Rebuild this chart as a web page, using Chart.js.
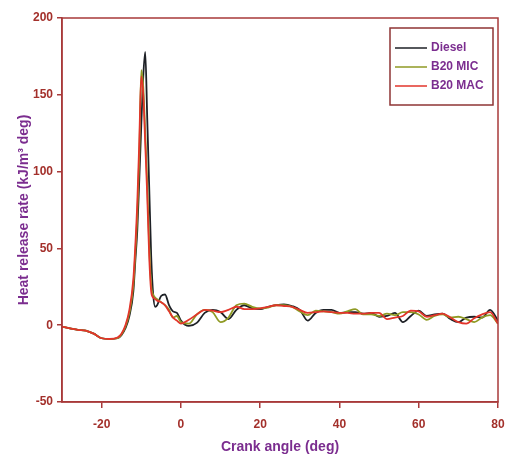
<!DOCTYPE html>
<html>
<head>
<meta charset="utf-8">
<script src="https://cdn.jsdelivr.net/npm/chart.js@4.4.0/dist/chart.umd.min.js"></script>
<style>
  html, body { margin: 0; padding: 0; background: #fff; }
  #wrap { width: 505px; height: 459px; }
</style>
</head>
<body>
<div id="wrap"><canvas id="hrr"></canvas></div>
<script>
const crankAngle = [
  -30, -28, -26, -24, -22, -20, -18, -16, -15, -14,
  -13, -12, -11.5, -11, -10.5, -10, -9.5, -9, -8.5, -8, -7.5, -7, -6.5, -6,
  -5, -4, -3, -2, -1,
  0, 2, 4, 6, 8, 10, 12, 14, 16, 18, 20, 22, 24, 26, 28, 30, 32, 34, 36, 38, 40,
  42, 44, 46, 48, 50, 52, 54, 56, 58, 60, 62, 64, 66, 68, 70, 72, 74, 76, 78, 80
];
const diesel = [
  -1, -2, -3, -3.5, -5.5, -8.5, -9, -8.5, -6.5, -2,
  6, 22, 42, 62, 95, 130, 162, 178, 135, 90, 45, 20, 12, 13,
  19, 20, 13, 9, 8,
  3, -0.5, 1.5, 8, 10, 8.5, 4, 10, 13, 11, 10.5, 12, 13, 13.5, 12.5, 10, 3, 8, 10, 10, 8,
  8.5, 8.5, 7.5, 8, 5.5, 6, 8, 2, 6, 9.5, 6, 7, 7.5, 4, 2, 5, 5.5, 5, 10, 3
];
const b20Mic = [
  -1, -2, -3, -3.5, -5.5, -8.5, -9, -8.5, -6, -1,
  8, 26, 47, 72, 110, 166, 155, 125, 92, 52, 26, 20, 18, 17,
  15, 13, 10, 5, 6,
  2, 1, 7, 10, 8.5, 2, 5, 13, 14, 12, 11, 11.5, 13, 13, 12, 9, 6.5, 9.5, 9, 8.5, 7.5,
  9, 10.5, 7, 7, 6, 7.5, 6.5, 8.5, 8.5, 7, 3.5, 6, 7, 5, 5.5, 4, 2, 5, 6.5, 1
];
const b20Mac = [
  -1, -2, -3, -3.5, -5.5, -8.5, -9, -8, -5.5, 0,
  10, 30, 52, 80, 120, 162, 150, 118, 85, 45, 22, 18, 17, 16,
  15, 13, 9, 5, 3,
  1, 3.5, 7, 10, 9.5, 8.5, 10, 12, 10.5, 10.5, 11, 12, 13, 12.5, 12, 10, 8, 8.5, 9, 8.5, 8,
  8, 7.5, 7.5, 8, 8, 4, 5, 6, 9.5, 9, 5.5, 6.5, 7.5, 5, 2, 1, 4.5, 7, 8.5, 1
];
const seriesNames = ['Diesel', 'B20 MIC', 'B20 MAC'];
const xTicks = [-20, 0, 20, 40, 60, 80];

const axisColor = '#a83a3a';
const tickColor = '#a3302b';
const titleColor = '#7b2d8f';
const fontFamily = 'Arial, "Liberation Sans", sans-serif';

// frame around the plot + boxed legend in the top right corner
const framePlugin = {
  id: 'frameAndLegend',
  afterDraw(chart) {
    const { ctx, chartArea: a } = chart;
    ctx.save();
    ctx.strokeStyle = axisColor;
    ctx.lineWidth = 1.5;
    ctx.strokeRect(a.left, a.top, a.right - a.left, a.bottom - a.top);

    const bx = a.right - 108, by = a.top + 10, bw = 103, bh = 77;
    ctx.strokeStyle = '#8e3535';
    ctx.lineWidth = 1.5;
    ctx.strokeRect(bx, by, bw, bh);

    ctx.font = 'bold 12px ' + fontFamily;
    ctx.textBaseline = 'middle';
    chart.data.datasets.forEach((ds, i) => {
      const y = by + 20 + i * 19;
      ctx.strokeStyle = ds.borderColor;
      ctx.lineWidth = 1.5;
      ctx.beginPath();
      ctx.moveTo(bx + 5, y);
      ctx.lineTo(bx + 37, y);
      ctx.stroke();
      ctx.fillStyle = titleColor;
      ctx.fillText(ds.label, bx + 41, y);
    });
    ctx.restore();
  }
};

const colors = ['#1e2126', '#8f9a24', '#e2352b'];
const values = [diesel, b20Mic, b20Mac];

new Chart(document.getElementById('hrr'), {
  type: 'line',
  data: {
    labels: crankAngle,
    datasets: values.map((v, i) => ({
      label: seriesNames[i],
      data: v.map((y, k) => ({ x: crankAngle[k], y })),
      borderColor: colors[i],
      borderWidth: 1.8,
      pointRadius: 0,
      fill: false,
      order: 2 - i, // red drawn on top, like the original
      cubicInterpolationMode: 'monotone'
    }))
  },
  options: {
    responsive: true,
    maintainAspectRatio: false,
    animation: false,
    layout: { padding: { left: 0, top: 18, right: 7, bottom: 0 } },
    plugins: {
      legend: { display: false },
      tooltip: { enabled: false }
    },
    scales: {
      x: {
        type: 'linear',
        min: -30,
        max: 80,
        afterBuildTicks: (scale) => { scale.ticks = xTicks.map(v => ({ value: v })); },
        afterFit: (scale) => {
          scale.height = 57;
          scale.paddingLeft = 0;
          scale.paddingRight = 0;
        },
        grid: { drawOnChartArea: false, drawTicks: true, tickLength: 6, color: axisColor, lineWidth: 1.5 },
        border: { color: axisColor, width: 1.5 },
        ticks: {
          color: tickColor,
          padding: 9,
          maxRotation: 0,
          font: { size: 12, weight: 'bold', family: fontFamily }
        },
        title: {
          display: true,
          text: 'Crank angle (deg)',
          color: titleColor,
          padding: { top: 0, bottom: 3 },
          font: { size: 14, weight: 'bold', family: fontFamily }
        }
      },
      y: {
        min: -50,
        max: 200,
        afterFit: (scale) => {
          scale.width = 62;
          scale.paddingTop = 0;
          scale.paddingBottom = 0;
        },
        grid: { drawOnChartArea: false, drawTicks: true, tickLength: 5, color: axisColor, lineWidth: 1.5 },
        border: { color: axisColor, width: 1.5 },
        ticks: {
          stepSize: 50,
          color: tickColor,
          padding: 4,
          font: { size: 12, weight: 'bold', family: fontFamily }
        },
        title: {
          display: true,
          text: 'Heat release rate (kJ/m³ deg)',
          color: titleColor,
          padding: { top: 16, bottom: 0 },
          font: { size: 14, weight: 'bold', family: fontFamily }
        }
      }
    }
  },
  plugins: [framePlugin]
});
</script>
</body>
</html>
